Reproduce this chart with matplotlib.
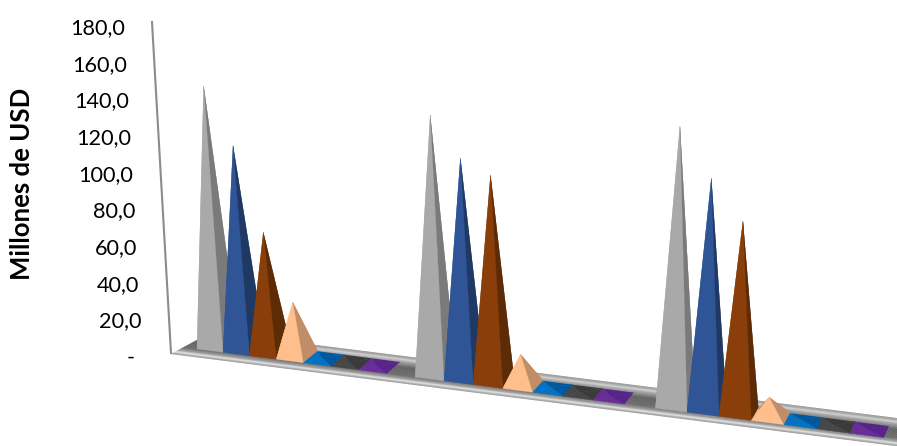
import matplotlib
matplotlib.use('Agg')
import matplotlib.pyplot as plt
from matplotlib.patches import Polygon
import numpy as np

plt.rcParams['font.family'] = ['Lato', 'DejaVu Sans']

# valores, tres grupos por serie (millones de USD)
gris = [141.6, 132.5, 133.6]
azul = [110.0, 111.4, 109.6]
marron = [64.5, 103.8, 90.4]
durazno = [28.7, 15.4, 9.3]
celeste = [1.2, 1.0, 0.8]
oscuro = [0.1, 0.1, 0.1]
morado = [0.1, 0.1, 0.1]

series = [gris, azul, marron, durazno, celeste, oscuro, morado]
colores = ['#A9A9A9', '#2F5597', '#8A3F0B', '#FFBF8C', '#0073C4', '#474747', '#6A2C9B']
lados = ['#7A7A7A', '#1F3864', '#5E2B07', '#C08D66', '#0058A0', '#3B3B3B', '#56248A']

ticks = [0, 20, 40, 60, 80, 100, 120, 140, 160, 180]


def px_slot(s):
    # posicion en x de cada casilla, con perspectiva
    return 197 + 25.9 * s + 0.172 * s ** 2


def y_frente(x):
    return 349 + 0.129 * (x - 197)


def escala(x):
    return 1.83 * (1 + (x - 210) * 3e-4)


def prof_x(x):
    return 14 - (x - 300) * 8 / 490


def piramide(ax, s, valor, color, lado):
    x0 = px_slot(s)
    x1 = px_slot(s + 1)
    dx = prof_x(x0)
    dy = -11.5
    fl = (x0, y_frente(x0))
    fr = (x1, y_frente(x1))
    br = (x1 + dx, y_frente(x1) + dy)
    bl = (x0 + dx, y_frente(x0) + dy)
    xc = (x0 + x1 + dx) / 2
    h = valor * escala(xc)
    ap = (xc - 2.5 + (xc - 510) * 1.55e-4 * h, y_frente(xc) - 6 - h)
    ax.add_patch(Polygon([fl, bl, ap], fc=color, ec='none', zorder=3 + s))
    ax.add_patch(Polygon([bl, br, ap], fc=lado, ec='none', zorder=3 + s))
    ax.add_patch(Polygon([fr, br, ap], fc=lado, ec=lado, lw=0.2, zorder=3 + s))
    ax.add_patch(Polygon([fl, fr, ap], fc=color, ec=color, lw=0.2, zorder=3 + s))


fig = plt.figure(figsize=(8.97, 4.46), dpi=100)
ax = fig.add_axes([0, 0, 1, 1])
ax.set_xlim(0, 897)
ax.set_ylim(446, 0)
ax.axis('off')

# piso, franjas de atras hacia adelante
perfil_t = [0.0, 0.06, 0.12, 0.2, 0.4, 0.7, 0.83, 0.89, 0.93, 0.97, 1.0]
perfil_g = [0.55, 0.62, 0.80, 0.60, 0.30, 0.35, 0.60, 0.90, 0.72, 0.58, 0.55]
tt = np.linspace(0, 1, 41)
gg = np.interp(tt, perfil_t, perfil_g)
for i in range(len(tt) - 1):
    a, b = tt[i], tt[i + 1]
    pts = [(212 - 41 * a, 332 + 22 * a), (900, 418.5 + 28 * a),
           (900, 418.5 + 28 * b), (212 - 41 * b, 332 + 22 * b)]
    ax.add_patch(Polygon(pts, fc=str(gg[i]), ec=str(gg[i]), lw=0.1, zorder=1))

# pared izquierda
ax.plot([152, 171], [22, 353], color='#8C8C8C', lw=1.5, zorder=2)

for g in range(3):
    for k in range(len(series)):
        piramide(ax, g * 8 + k, series[k][g], colores[k], lados[k])

# eje de valores
for v in ticks:
    y = 358 - v * 1.833
    if v == 0:
        ax.text(135, y, '-', ha='right', va='center', fontsize=15.6, color='black')
    else:
        ax.text(125 + (180 - v) * 0.1, y, ('%.1f' % v).replace('.', ','),
                ha='right', va='center', fontsize=15.6, color='black')

ax.text(22, 184, 'Millones de USD', rotation=90, ha='center', va='center',
        fontsize=18.5, fontweight='bold', color='black')

fig.savefig('out.png', dpi=100)
